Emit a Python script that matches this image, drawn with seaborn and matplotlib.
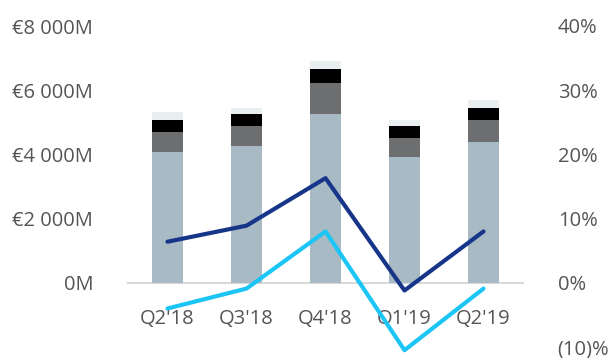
import numpy as np
import pandas as pd
import seaborn as sns
import matplotlib.pyplot as plt
from matplotlib.ticker import FuncFormatter

# Quarterly revenue split into four stacked components (EUR millions)
quarters = ["Q2'18", "Q3'18", "Q4'18", "Q1'19", "Q2'19"]
seg_base = [4065, 4252, 5259, 3928, 4377]
seg_mid = [633, 633, 956, 574, 695]
seg_dark = [373, 374, 436, 373, 373]
seg_top = [259, 186, 259, 197, 250]

# Growth rates on the secondary axis (%)
growth_a = [6.4, 8.9, 16.3, -1.2, 8.0]
growth_b = [-4.0, -0.9, 8.0, -10.5, -0.9]

sns.set_theme(style="white")
plt.rcParams["font.family"] = ["Open Sans", "DejaVu Sans"]

text_color = "#555555"
colors = ["#A8BAC4", "#6D6E70", "#000000", "#E9EEF1"]
fs = 14.5

df = pd.DataFrame({
    "quarter": quarters,
    "base": seg_base,
    "mid": seg_mid,
    "dark": seg_dark,
    "top": seg_top,
    "ga": growth_a,
    "gb": growth_b,
})
df["c1"] = df["base"]
df["c2"] = df["c1"] + df["mid"]
df["c3"] = df["c2"] + df["dark"]
df["c4"] = df["c3"] + df["top"]

fig = plt.figure(figsize=(6.14, 3.58), dpi=100)
ax = fig.add_axes([128 / 614, 11 / 358, 395 / 614, 321 / 358])

# Stacked bars drawn back to front from cumulative totals
for col, color in zip(["c4", "c3", "c2", "c1"], colors[::-1]):
    sns.barplot(data=df, x="quarter", y=col, order=quarters, color=color,
                width=0.4, saturation=1, ax=ax, edgecolor="none")

ax.set_xlim(-0.5, 4.5)
ax.set_ylim(-2000, 8000)
ax.set_yticks([0, 2000, 4000, 6000, 8000])
ax.yaxis.set_major_formatter(FuncFormatter(
    lambda v, p: "0M" if v == 0 else "€{:,.0f}M".format(v).replace(",", " ")))
ax.set_xlabel("")
ax.set_ylabel("")
for s in ["top", "right", "left"]:
    ax.spines[s].set_visible(False)
ax.spines["bottom"].set_position(("data", 0))
ax.spines["bottom"].set_color("#D9D9D9")
ax.spines["bottom"].set_linewidth(1.5)
ax.spines["bottom"].set_zorder(0.5)
ax.tick_params(axis="x", length=0, pad=19, labelsize=fs, labelcolor=text_color)
ax.tick_params(axis="y", length=0, pad=25, labelsize=fs, labelcolor=text_color)

ax2 = ax.twinx()
sns.lineplot(data=df, x="quarter", y="ga", color="#17368A", linewidth=3,
             ax=ax2, clip_on=False)
sns.lineplot(data=df, x="quarter", y="gb", color="#1BC5F5", linewidth=3,
             ax=ax2, clip_on=False)
ax2.set_ylim(-10, 40)
ax2.set_yticks([-10, 0, 10, 20, 30, 40])
ax2.yaxis.set_major_formatter(FuncFormatter(
    lambda v, p: "({:.0f})%".format(-v) if v < 0 else "{:.0f}%".format(v)))
ax2.set_xlim(-0.5, 4.5)
ax2.set_xlabel("")
ax2.set_ylabel("")
for s in ax2.spines.values():
    s.set_visible(False)
ax2.tick_params(axis="y", length=0, pad=25, labelsize=fs, labelcolor=text_color)
ax2.grid(False)
ax.grid(False)

fig.savefig("out.png", dpi=100)
